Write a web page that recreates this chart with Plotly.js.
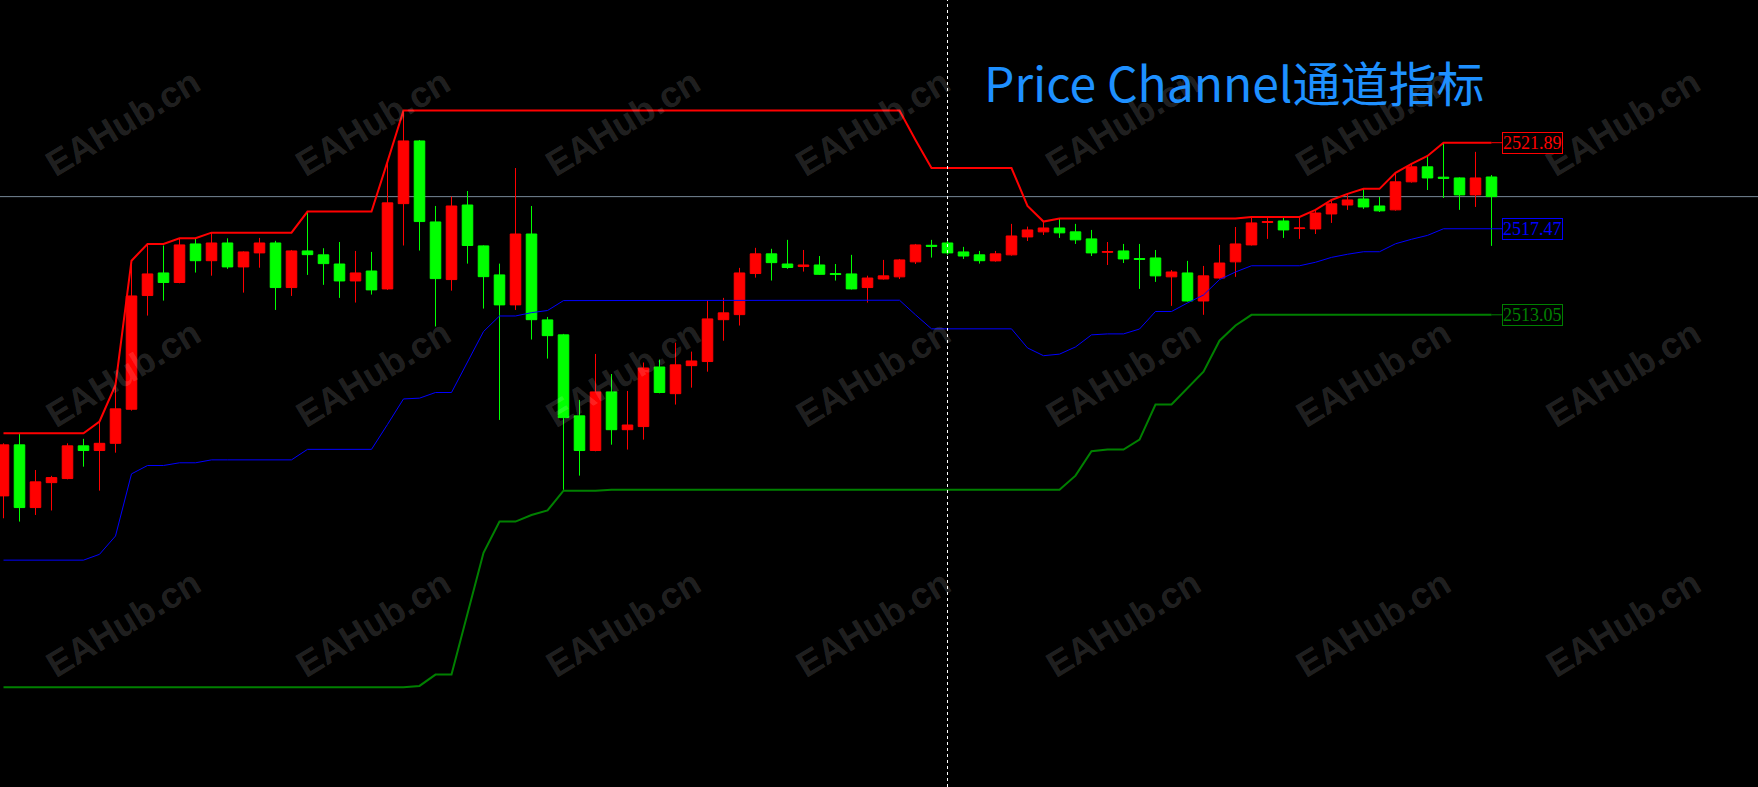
<!DOCTYPE html>
<html><head><meta charset="utf-8">
<script src="https://cdn.plot.ly/plotly-3.0.1.min.js"></script>
<style>html,body{margin:0;padding:0;background:#000;overflow:hidden}#chart{width:1758px;height:787px}</style>
</head><body><div id="chart"></div><script>
// ---- data (bar index 0..93) ----
const open = [
2503.75,2506.37,2503.15,2504.43,2504.64,2506.32,2506.08,2506.45,2508.20,2514.04,
2515.20,2514.71,2516.69,2515.83,2516.74,2515.51,2516.23,2516.74,2514.45,2516.33,
2516.13,2515.66,2514.79,2515.30,2514.38,2518.76,2521.98,2517.82,2514.86,2518.69,
2516.59,2515.10,2513.56,2517.20,2512.79,2512.02,2507.86,2506.08,2509.09,2507.15,
2507.31,2510.37,2509.00,2510.44,2510.65,2512.80,2513.06,2515.17,2516.18,2515.66,
2515.53,2515.61,2515.17,2515.15,2514.45,2514.89,2515.00,2515.77,2516.62,2516.74,
2516.28,2516.13,2515.82,2516.13,2517.05,2517.31,2517.51,2517.31,2516.95,2516.26,
2516.33,2515.94,2515.97,2515.00,2515.20,2513.76,2514.94,2515.77,2516.64,2517.79,
2517.87,2517.48,2517.46,2518.23,2518.69,2519.00,2518.64,2518.44,2519.88,2520.65,
2520.12,2520.08,2519.21,2520.13];
const high = [
2506.45,2506.97,2505.08,2504.78,2506.45,2506.68,2507.57,2509.45,2515.83,2516.69,
2516.61,2516.98,2516.98,2517.27,2516.98,2516.31,2517.00,2516.85,2516.38,2518.35,
2516.47,2516.79,2516.33,2516.28,2520.92,2523.54,2522.03,2518.64,2519.12,2519.41,
2516.62,2515.68,2520.59,2518.64,2512.94,2512.07,2508.68,2511.04,2510.01,2509.14,
2510.60,2510.75,2511.62,2511.16,2513.81,2513.92,2515.46,2516.49,2516.44,2516.90,
2516.38,2516.07,2515.66,2516.13,2515.06,2515.87,2515.92,2516.69,2516.90,2516.90,
2516.54,2516.33,2516.33,2517.72,2517.58,2517.84,2518.00,2517.72,2517.41,2516.79,
2516.69,2516.69,2516.38,2515.35,2515.82,2515.56,2516.64,2517.56,2518.08,2518.08,
2518.08,2518.08,2518.44,2518.95,2519.26,2519.52,2519.10,2520.34,2520.80,2521.21,
2521.89,2520.11,2521.42,2520.23];
const low = [
2502.60,2502.43,2502.77,2503.00,2504.60,2505.25,2504.02,2505.97,2508.13,2513.01,
2513.78,2514.67,2515.22,2515.06,2515.41,2514.19,2515.47,2513.30,2514.02,2515.10,
2514.59,2513.92,2513.68,2514.09,2514.33,2516.61,2516.35,2512.45,2514.29,2515.68,
2513.37,2507.65,2513.30,2511.78,2510.80,2504.06,2504.79,2506.04,2506.38,2506.13,
2506.64,2509.02,2508.44,2509.31,2510.13,2511.72,2512.50,2514.96,2514.81,2515.41,
2515.27,2515.10,2514.81,2514.35,2513.68,2514.86,2514.89,2515.66,2515.99,2516.13,
2515.92,2515.68,2515.78,2516.09,2516.84,2517.15,2517.00,2516.69,2516.07,2515.61,
2515.71,2514.38,2514.74,2513.51,2513.73,2513.05,2514.91,2515.00,2516.61,2516.95,
2517.00,2516.95,2517.20,2517.77,2518.44,2518.49,2518.33,2518.40,2519.84,2519.46,
2519.05,2518.44,2518.59,2516.59];
const close = [
2506.37,2503.15,2504.47,2504.69,2506.32,2506.08,2506.45,2508.22,2514.02,2515.15,
2514.71,2516.64,2515.83,2516.74,2515.51,2516.28,2516.74,2514.45,2516.33,2516.14,
2515.68,2514.79,2515.20,2514.33,2518.80,2521.98,2517.84,2514.91,2518.64,2516.61,
2515.01,2513.56,2517.20,2512.80,2511.98,2507.77,2506.08,2509.09,2507.15,2507.39,
2510.32,2509.06,2510.48,2510.68,2512.84,2513.15,2515.20,2516.18,2515.73,2515.48,
2515.61,2515.13,2515.12,2514.38,2514.94,2515.05,2515.87,2516.64,2516.57,2516.23,
2516.07,2515.83,2516.18,2517.10,2517.41,2517.51,2517.26,2516.90,2516.23,2516.30,
2515.92,2515.90,2515.05,2515.25,2513.76,2515.05,2515.71,2516.69,2517.77,2517.84,
2517.41,2517.51,2518.28,2518.75,2518.95,2518.59,2518.39,2519.88,2520.65,2520.08,
2520.06,2519.21,2520.08,2519.12];
const upperBand = [
2506.97,2506.97,2506.97,2506.97,2506.97,2506.97,2507.57,2509.45,2515.83,2516.69,
2516.69,2516.98,2516.98,2517.27,2517.27,2517.27,2517.27,2517.27,2517.27,2518.35,
2518.35,2518.35,2518.35,2518.35,2520.92,2523.54,2523.54,2523.54,2523.54,2523.54,
2523.54,2523.54,2523.54,2523.54,2523.54,2523.54,2523.54,2523.54,2523.54,2523.54,
2523.54,2523.54,2523.54,2523.54,2523.54,2523.54,2523.54,2523.54,2523.54,2523.54,
2523.54,2523.54,2523.54,2523.54,2523.54,2523.54,2523.54,2522.03,2520.59,2520.59,
2520.59,2520.59,2520.59,2520.59,2518.64,2517.84,2518.00,2518.00,2518.00,2518.00,
2518.00,2518.00,2518.00,2518.00,2518.00,2518.00,2518.00,2518.00,2518.08,2518.08,
2518.08,2518.08,2518.44,2518.95,2519.26,2519.52,2519.52,2520.34,2520.80,2521.21,
2521.89,2521.89,2521.89,2521.89];
const middleBand = [
2500.45,2500.45,2500.45,2500.45,2500.45,2500.45,2500.75,2501.69,2504.88,2505.31,
2505.31,2505.45,2505.45,2505.60,2505.60,2505.60,2505.60,2505.60,2505.60,2506.14,
2506.14,2506.14,2506.14,2506.14,2507.42,2508.73,2508.77,2509.06,2509.06,2510.61,
2512.19,2512.99,2512.99,2513.16,2513.27,2513.78,2513.78,2513.78,2513.80,2513.80,
2513.80,2513.80,2513.80,2513.80,2513.80,2513.80,2513.80,2513.80,2513.80,2513.80,
2513.80,2513.80,2513.80,2513.80,2513.80,2513.80,2513.80,2513.05,2512.33,2512.33,
2512.33,2512.33,2512.33,2512.33,2511.35,2510.95,2511.03,2511.40,2512.02,2512.07,
2512.07,2512.32,2513.22,2513.22,2513.66,2514.07,2514.86,2515.25,2515.57,2515.57,
2515.57,2515.57,2515.75,2516.00,2516.16,2516.29,2516.29,2516.70,2516.93,2517.13,
2517.47,2517.47,2517.47,2517.47];
const lowerBand = [
2493.92,2493.92,2493.92,2493.92,2493.92,2493.92,2493.92,2493.92,2493.92,2493.92,
2493.92,2493.92,2493.92,2493.92,2493.92,2493.92,2493.92,2493.92,2493.92,2493.92,
2493.92,2493.92,2493.92,2493.92,2493.92,2493.92,2493.99,2494.57,2494.57,2497.67,
2500.83,2502.43,2502.43,2502.77,2503.00,2504.02,2504.02,2504.02,2504.06,2504.06,
2504.06,2504.06,2504.06,2504.06,2504.06,2504.06,2504.06,2504.06,2504.06,2504.06,
2504.06,2504.06,2504.06,2504.06,2504.06,2504.06,2504.06,2504.06,2504.06,2504.06,
2504.06,2504.06,2504.06,2504.06,2504.06,2504.06,2504.06,2504.79,2506.04,2506.13,
2506.13,2506.64,2508.44,2508.44,2509.31,2510.13,2511.72,2512.50,2513.05,2513.05,
2513.05,2513.05,2513.05,2513.05,2513.05,2513.05,2513.05,2513.05,2513.05,2513.05,
2513.05,2513.05,2513.05,2513.05];
const crosshairBar = 59;
const titleText = 'Price Channel通道指标';
const watermarkText = 'EAHub.cn';

// ---- chart ----
const W = 1758, H = 787;
const bars = close.map((_, i) => i);
const last = bars.length - 1;

const traces = [
  {type:'candlestick', x:bars, open:open, high:high, low:low, close:close,
   increasing:{line:{color:'#ff0000', width:1}, fillcolor:'#ff0000'},
   decreasing:{line:{color:'#00ff00', width:1}, fillcolor:'#00ff00'},
   whiskerwidth:0, hoverinfo:'skip', showlegend:false},
  {type:'scatter', mode:'lines', x:bars, y:upperBand, line:{color:'#ff0000', width:2}, hoverinfo:'skip', showlegend:false},
  {type:'scatter', mode:'lines', x:bars, y:middleBand, line:{color:'#0000ff', width:1}, hoverinfo:'skip', showlegend:false},
  {type:'scatter', mode:'lines', x:bars, y:lowerBand, line:{color:'#008000', width:2}, hoverinfo:'skip', showlegend:false}
];

const annotations = [];
// watermarks
for (let r = 0; r < 3; r++) {
  for (let c = 0; c < 7; c++) {
    annotations.push({xref:'paper', yref:'paper', x:(123 + 250*c)/W, y:1 - (123 + 250*r)/H,
      xanchor:'center', yanchor:'middle', text:'<b>' + watermarkText + '</b>', showarrow:false,
      textangle:-31, font:{family:'Liberation Sans, Arial, sans-serif', size:36, color:'rgba(255,255,255,0.15)'}});
  }
}
// title
annotations.push({xref:'paper', yref:'paper', x:982/W, y:1 - 81/H, xanchor:'left', yanchor:'middle',
  text:titleText, showarrow:false, font:{family:'Noto Sans CJK SC, Noto Sans, sans-serif', size:48, color:'#1e90ff'}});

const shapes = [
  {type:'line', xref:'paper', yref:'y', x0:0, x1:1, y0:close[last], y1:close[last], line:{color:'#778899', width:1}, layer:'below'},
  {type:'line', xref:'x', yref:'paper', x0:crosshairBar, x1:crosshairBar, y0:0, y1:1, line:{color:'#ffffff', width:1, dash:'3px,3px'}}
];
const bands = [[upperBand, '#ff0000'], [middleBand, '#0000ff'], [lowerBand, '#008000']];
const labelX = last + (1502 - (3.5 + 16*last)) / 16;
bands.forEach(([arr, col]) => {
  const v = arr[last];
  shapes.push({type:'line', xref:'x', yref:'y', x0:last, x1:labelX, y0:v, y1:v, line:{color:col, width:1}});
  annotations.push({xref:'x', yref:'y', x:labelX, y:v, xanchor:'left', yanchor:'middle', text:v.toFixed(2),
    showarrow:false, bgcolor:'#000000', bordercolor:col, borderwidth:1, borderpad:0,
    font:{family:'Liberation Serif, Times New Roman, serif', size:18, color:col}});
});

const layout = {
  width:W, height:H, margin:{l:0, r:0, t:0, b:0, pad:0},
  paper_bgcolor:'#000000', plot_bgcolor:'#000000',
  boxgap:0.34, boxgroupgap:0,
  showlegend:false, hovermode:false, dragmode:false,
  xaxis:{range:[-3.5/16, (W - 3.5)/16], showgrid:false, zeroline:false, showticklabels:false, ticks:'', showline:false, rangeslider:{visible:false}, fixedrange:true},
  yaxis:{range:[2521.89 - (H - 142.7)/19.47, 2521.89 + 142.7/19.47], showgrid:false, zeroline:false, showticklabels:false, ticks:'', showline:false, fixedrange:true},
  annotations:annotations, shapes:shapes
};
Plotly.newPlot('chart', traces, layout, {staticPlot:true, displayModeBar:false});
</script></body></html>
